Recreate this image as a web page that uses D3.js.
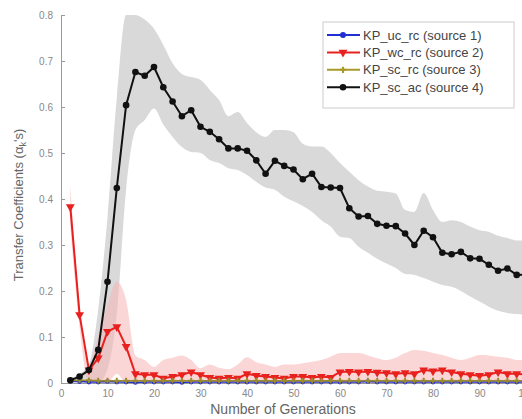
<!DOCTYPE html>
<html>
<head>
<meta charset="utf-8">
<script src="https://cdn.jsdelivr.net/npm/d3@7"></script>
<style>
  body { margin: 0; background: #fff; }
  svg { display: block; font-family: "Liberation Sans", Arial, sans-serif; }
</style>
</head>
<body>
<svg id="chart" width="522" height="419"></svg>
<script>
// generations 2,4,...,100
var gens = d3.range(2, 101, 2)

var seriesNames = ["KP_uc_rc (source 1)", "KP_wc_rc (source 2)", "KP_sc_rc (source 3)", "KP_sc_ac (source 4)"]
var xTicks = [0, 10, 20, 30, 40, 50, 60, 70, 80, 90, 100]
var yTicks = [0, 0.1, 0.2, 0.3, 0.4, 0.5, 0.6, 0.7, 0.8]

// source 4 (black)
var blackVals = [0.006, 0.014, 0.028, 0.072, 0.22, 0.424, 0.604, 0.676, 0.668, 0.687,
  0.643, 0.612, 0.580, 0.593, 0.557, 0.546, 0.530, 0.510, 0.510, 0.505,
  0.484, 0.455, 0.483, 0.472, 0.464, 0.443, 0.455, 0.426, 0.425, 0.424,
  0.380, 0.362, 0.363, 0.346, 0.342, 0.341, 0.325, 0.300, 0.331, 0.317,
  0.283, 0.280, 0.285, 0.271, 0.270, 0.257, 0.244, 0.249, 0.235, 0.236]
var blackHi = [0.01, 0.02, 0.04, 0.16, 0.36, 0.62, 0.80, 0.80, 0.79, 0.77,
  0.735, 0.695, 0.672, 0.665, 0.659, 0.637, 0.615, 0.580, 0.589, 0.565,
  0.545, 0.535, 0.550, 0.550, 0.545, 0.520, 0.514, 0.514, 0.500, 0.478,
  0.459, 0.441, 0.427, 0.418, 0.416, 0.412, 0.376, 0.372, 0.413, 0.376,
  0.350, 0.354, 0.350, 0.340, 0.332, 0.329, 0.320, 0.315, 0.310, 0.310]
var blackLo = [0.0, 0.005, 0.01, 0.0, 0.03, 0.15, 0.42, 0.55, 0.572, 0.597,
  0.562, 0.535, 0.513, 0.502, 0.500, 0.485, 0.478, 0.467, 0.463, 0.452,
  0.437, 0.425, 0.420, 0.405, 0.395, 0.385, 0.372, 0.354, 0.340, 0.318,
  0.315, 0.296, 0.283, 0.270, 0.260, 0.250, 0.237, 0.235, 0.228, 0.220,
  0.213, 0.209, 0.200, 0.188, 0.177, 0.166, 0.157, 0.152, 0.150, 0.148]

// source 2 (red)
var redVals = [0.383, 0.148, 0.028, 0.054, 0.112, 0.122, 0.079, 0.020, 0.018, 0.018,
  0.010, 0.014, 0.018, 0.024, 0.018, 0.012, 0.010, 0.012, 0.010, 0.020,
  0.016, 0.014, 0.012, 0.010, 0.014, 0.014, 0.012, 0.014, 0.012, 0.024,
  0.025, 0.024, 0.025, 0.023, 0.022, 0.020, 0.022, 0.020, 0.028, 0.026,
  0.028, 0.024, 0.020, 0.018, 0.016, 0.018, 0.024, 0.020, 0.020, 0.018]
var redHi = [0.43, 0.17, 0.04, 0.10, 0.17, 0.22, 0.18, 0.06, 0.05, 0.035,
  0.05, 0.055, 0.06, 0.05, 0.032, 0.04, 0.033, 0.03, 0.04, 0.056,
  0.045, 0.04, 0.035, 0.04, 0.04, 0.043, 0.046, 0.05, 0.057, 0.065,
  0.065, 0.065, 0.06, 0.054, 0.05, 0.055, 0.065, 0.072, 0.07, 0.065,
  0.061, 0.055, 0.05, 0.055, 0.061, 0.06, 0.057, 0.055, 0.05, 0.05]
var redLo = [0.34, 0.12, 0.0, 0.0, 0.0, 0.02, 0.0, 0.0, 0.0, 0.0,
  0, 0, 0, 0, 0, 0, 0, 0, 0, 0, 0, 0, 0, 0, 0, 0, 0, 0, 0, 0,
  0, 0, 0, 0, 0, 0, 0, 0, 0, 0, 0, 0, 0, 0, 0, 0, 0, 0, 0, 0]

// source 1 (blue) and source 3 (olive) stay near zero
var blueVals = [0.003, 0.003, 0.002, 0.002, 0.003, 0.002, 0.002, 0.001, 0.002, 0.002,
  0.002, 0.002, 0.001, 0.002, 0.002, 0.002, 0.002, 0.002, 0.002, 0.002,
  0.002, 0.002, 0.002, 0.002, 0.002, 0.002, 0.002, 0.002, 0.002, 0.002,
  0.002, 0.002, 0.003, 0.002, 0.002, 0.002, 0.002, 0.002, 0.002, 0.002,
  0.002, 0.002, 0.002, 0.002, 0.002, 0.002, 0.002, 0.002, 0.002, 0.002]
var oliveVals = [0.005, 0.006, 0.006, 0.005, 0.005, 0.005, 0.005, 0.005, 0.005, 0.005,
  0.005, 0.005, 0.005, 0.005, 0.005, 0.005, 0.005, 0.005, 0.005, 0.005,
  0.005, 0.005, 0.005, 0.005, 0.005, 0.005, 0.005, 0.005, 0.005, 0.005,
  0.005, 0.005, 0.005, 0.005, 0.005, 0.005, 0.005, 0.005, 0.005, 0.005,
  0.005, 0.005, 0.005, 0.005, 0.005, 0.005, 0.005, 0.005, 0.005, 0.005]

var svg = d3.select("#chart")
var x = d3.scaleLinear().domain([0, 100]).range([61, 526])
var y = d3.scaleLinear().domain([0, 0.8]).range([383, 15])

function rows(vals, lo, hi) {
  return gens.map(function(g, i) {
    return { g: g, v: vals[i], lo: lo ? lo[i] : 0, hi: hi ? hi[i] : 0 }
  })
}

var area = d3.area()
  .x(function(d) { return x(d.g) })
  .y0(function(d) { return y(d.lo) })
  .y1(function(d) { return y(d.hi) })
  .curve(d3.curveMonotoneX)

var line = d3.line()
  .x(function(d) { return x(d.g) })
  .y(function(d) { return y(d.v) })

var black = rows(blackVals, blackLo, blackHi)
var red = rows(redVals, redLo, redHi)
var blue = rows(blueVals)
var olive = rows(oliveVals)

// shaded bands
svg.append("path").datum(black).attr("d", area).attr("fill", "#d9d9d9")
svg.append("path").datum(red).attr("d", area).attr("fill", "#f7b5b5").attr("opacity", 0.55)

// axes
var yAxis = d3.axisLeft(y).tickValues(yTicks).tickSize(-4).tickPadding(8)
  .tickFormat(function(d) { return d === 0 ? "0" : d3.format(".1f")(d) })
var gy = svg.append("g").attr("transform", "translate(61,0)").call(yAxis)
var xAxis = d3.axisBottom(x).tickValues(xTicks).tickSize(-4).tickPadding(7)
var gx = svg.append("g").attr("transform", "translate(0,383)").call(xAxis)
;[gx, gy].forEach(function(g) {
  g.select(".domain").attr("stroke", "#999")
  g.selectAll(".tick line").attr("stroke", "#999")
  g.selectAll("text").attr("fill", "#888").attr("font-size", 10)
})

// lines + markers
svg.append("path").datum(blue).attr("d", line).attr("fill", "none").attr("stroke", "#2030d0").attr("stroke-width", 1.5)
svg.selectAll(".mb").data(blue).join("circle").attr("class", "mb")
  .attr("cx", function(d) { return x(d.g) }).attr("cy", function(d) { return y(d.v) })
  .attr("r", 2.3).attr("fill", "#2030d0")

svg.append("path").datum(red).attr("d", line).attr("fill", "none").attr("stroke", "#e8201e").attr("stroke-width", 2)
var tri = d3.symbol().type(d3.symbolTriangle).size(34)
svg.selectAll(".mr").data(red).join("path").attr("class", "mr")
  .attr("d", tri)
  .attr("transform", function(d) { return "translate(" + x(d.g) + "," + y(d.v) + ") rotate(180)" })
  .attr("fill", "#e8201e")

svg.append("path").datum(olive).attr("d", line).attr("fill", "none").attr("stroke", "#9a8a30").attr("stroke-width", 1.5)
svg.selectAll(".mo").data(olive).join("path").attr("class", "mo")
  .attr("d", d3.symbol().type(d3.symbolCross).size(18))
  .attr("transform", function(d) { return "translate(" + x(d.g) + "," + y(d.v) + ")" })
  .attr("fill", "#9a8a30")

svg.append("path").datum(black).attr("d", line).attr("fill", "none").attr("stroke", "#111").attr("stroke-width", 2)
svg.selectAll(".mk").data(black).join("circle").attr("class", "mk")
  .attr("cx", function(d) { return x(d.g) }).attr("cy", function(d) { return y(d.v) })
  .attr("r", 3.3).attr("fill", "#111")

// axis titles
svg.append("text").attr("x", 283).attr("y", 414).attr("text-anchor", "middle")
  .attr("font-size", 14).attr("fill", "#666").text("Number of Generations")
var yt = svg.append("text").attr("transform", "translate(23,205) rotate(-90)")
  .attr("text-anchor", "middle").attr("font-size", 13).attr("fill", "#666")
yt.append("tspan").text("Transfer Coefficients (\u03b1")
yt.append("tspan").attr("font-size", 9).attr("dy", 3).text("k")
yt.append("tspan").attr("dy", -3).text("'s)")

// legend
var colors = ["#2030d0", "#e8201e", "#a89a28", "#111"]
var lg = svg.append("g")
lg.append("rect").attr("x", 323).attr("y", 22).attr("width", 191).attr("height", 86)
  .attr("fill", "#fff").attr("stroke", "#ccc")
seriesNames.forEach(function(name, i) {
  var ly = 35 + i * 17.4
  lg.append("line").attr("x1", 327).attr("x2", 360).attr("y1", ly).attr("y2", ly)
    .attr("stroke", colors[i]).attr("stroke-width", 2)
  var m
  if (i == 0) m = lg.append("circle").attr("r", 3).attr("cx", 343).attr("cy", ly)
  else if (i == 1) m = lg.append("path").attr("d", tri).attr("transform", "translate(343," + ly + ") rotate(180)")
  else if (i == 2) m = lg.append("path").attr("d", d3.symbol().type(d3.symbolCross).size(22)).attr("transform", "translate(343," + ly + ")")
  else m = lg.append("circle").attr("r", 3.3).attr("cx", 343).attr("cy", ly)
  m.attr("fill", colors[i])
  lg.append("text").attr("x", 363).attr("y", ly + 4.5).attr("font-size", 13)
    .attr("fill", "#444").text(name)
})
</script>
</body>
</html>
